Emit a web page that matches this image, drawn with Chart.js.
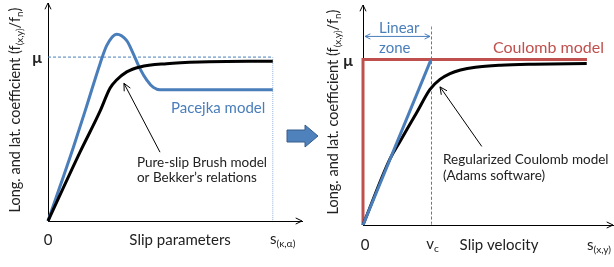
<!DOCTYPE html>
<html>
<head>
<meta charset="utf-8">
<script src="https://cdn.jsdelivr.net/npm/chart.js@4.4.1/dist/chart.umd.min.js"></script>
<style>
  body { margin: 0; background: #fff; }
  #wrap { position: relative; width: 614px; height: 267px; overflow: hidden; }
  #left { position: absolute; left: 0; top: 0; }
  #right { position: absolute; left: 318px; top: 0; }
</style>
</head>
<body>
<div id="wrap">
  <canvas id="left" width="320" height="267" style="width:320px;height:267px"></canvas>
  <canvas id="right" width="296" height="267" style="width:296px;height:267px"></canvas>
</div>
<script>
// ---- left panel: slip models (x = slip, y = friction coefficient, mu = 1)
const pacejkaX = [0, 0.47, 1.0, 1.52, 2.05, 2.31, 2.70, 3.10, 3.36, 3.62, 3.89, 4.15, 4.41, 4.93, 8.85];
const pacejkaY = [0, 0.21, 0.45, 0.70, 0.96, 1.07, 1.14, 1.10, 1.02, 0.93, 0.86, 0.815, 0.80, 0.80, 0.80];
const brushX = [0, 1.26, 2.05, 2.44, 2.70, 3.10, 3.62, 4.67, 5.98, 8.85];
const brushY = [0, 0.42, 0.67, 0.81, 0.86, 0.91, 0.94, 0.96, 0.97, 0.975];
const slipEnd = 8.85;

// ---- right panel: slip velocity models
const vc = 2.74;
const coulombX = [0, 0, 8.96];
const coulombY = [0, 1, 1];
const linearX = [0, 2.72];
const linearY = [0, 1];
const adamsX = [0, 1.08, 1.48, 2.15, 2.68, 3.08, 3.48, 3.9, 4.5, 5.5, 6.81, 8.95];
const adamsY = [0, 0.40, 0.505, 0.68, 0.82, 0.88, 0.915, 0.937, 0.954, 0.966, 0.972, 0.976];

const FONT = 'Lato, "Open Sans", sans-serif';
const TXT = '#222';
const BLUE = '#4a7ebb';
const RED = '#c0504d';

function pts(xs, ys) {
    return xs.map((x, i) => ({x: x, y: ys[i]}));
}

function line(xs, ys, color, width, extra) {
    return Object.assign({
        data: pts(xs, ys),
        borderColor: color,
        borderWidth: width,
        pointRadius: 0,
        fill: false,
        clip: false,
        cubicInterpolationMode: 'monotone'
    }, extra || {});
}

function scaleOpts(max) {
    return {
        type: 'linear', min: 0, max: max,
        grid: { display: false, drawTicks: false },
        ticks: { display: false },
        border: { display: true, color: '#000', width: 1 }
    };
}

// text with subscripts: parts = [[text, isSub], ...]
function rich(ctx, parts, x, y, size, color, align) {
    ctx.save();
    ctx.fillStyle = color;
    ctx.textBaseline = 'middle';
    ctx.textAlign = 'left';
    let w = 0;
    parts.forEach(([t, sub]) => {
        ctx.font = (sub ? size * 0.68 : size) + 'px ' + FONT;
        w += ctx.measureText(t).width;
    });
    let cx = align === 'center' ? x - w / 2 : (align === 'right' ? x - w : x);
    parts.forEach(([t, sub]) => {
        const s = sub ? size * 0.68 : size;
        ctx.font = s + 'px ' + FONT;
        ctx.fillText(t, cx, sub ? y + size * 0.3 : y);
        cx += ctx.measureText(t).width;
    });
    ctx.restore();
}

function head(ctx, fx, fy, tx, ty, len) {
    const a = Math.atan2(ty - fy, tx - fx);
    ctx.beginPath();
    ctx.moveTo(tx - len * Math.cos(a - 0.45), ty - len * Math.sin(a - 0.45));
    ctx.lineTo(tx, ty);
    ctx.lineTo(tx - len * Math.cos(a + 0.45), ty - len * Math.sin(a + 0.45));
    ctx.stroke();
}

function arrow(ctx, fx, fy, tx, ty, color, len) {
    ctx.save();
    ctx.strokeStyle = color;
    ctx.lineWidth = 1;
    ctx.beginPath();
    ctx.moveTo(fx, fy);
    ctx.lineTo(tx, ty);
    ctx.stroke();
    head(ctx, fx, fy, tx, ty, len);
    ctx.restore();
}

function axisHeads(ctx, a) {
    ctx.save();
    ctx.strokeStyle = '#000';
    ctx.lineWidth = 1;
    head(ctx, a.left, a.bottom, a.left, a.top, 7);
    head(ctx, a.left, a.bottom, a.right, a.bottom, 7);
    ctx.restore();
}

const yLabel = [['Long. and lat. coefficient (f', false], ['(x,y)', true], ['/f', false], ['n', true], [')', false]];

function drawYLabel(ctx, px, py) {
    ctx.save();
    ctx.translate(px, py);
    ctx.rotate(-Math.PI / 2);
    rich(ctx, yLabel, 0, 0, 14.5, TXT, 'center');
    ctx.restore();
}

function drawMu(ctx, px, py) {
    ctx.save();
    ctx.fillStyle = TXT;
    ctx.font = 'bold 16px ' + FONT;
    ctx.textAlign = 'center';
    ctx.textBaseline = 'middle';
    ctx.fillText('\u03bc', px, py);
    ctx.restore();
}

const leftDecor = {
    id: 'leftDecor',
    afterDatasetsDraw(chart) {
        const {ctx, chartArea: a} = chart;
        const x = chart.scales.x, y = chart.scales.y;
        axisHeads(ctx, a);
        drawYLabel(ctx, 15, 110);
        drawMu(ctx, a.left - 11, y.getPixelForValue(1) + 1);
        rich(ctx, [['0', false]], x.getPixelForValue(0), a.bottom + 19, 15, TXT, 'center');
        rich(ctx, [['Slip parameters', false]], x.getPixelForValue(5.2), a.bottom + 19, 15, TXT, 'center');
        rich(ctx, [['s', false], ['(\u03ba,\u03b1)', true]], x.getPixelForValue(8.74), a.bottom + 18, 15, TXT, 'left');
        rich(ctx, [['Pacejka model', false]], x.getPixelForValue(4.84), y.getPixelForValue(0.69), 15, BLUE, 'left');
        rich(ctx, [['Pure-slip Brush model', false]], x.getPixelForValue(3.5), y.getPixelForValue(0.354), 13.5, TXT, 'left');
        rich(ctx, [['or Bekker\u2019s relations', false]], x.getPixelForValue(3.5), y.getPixelForValue(0.262), 13.5, TXT, 'left');
        arrow(ctx, x.getPixelForValue(4.41), y.getPixelForValue(0.42), x.getPixelForValue(2.99), y.getPixelForValue(0.84), '#000', 8);

        // block arrow pointing to the right panel
        const bx = a.right - 15, by = 136;
        ctx.save();
        ctx.fillStyle = '#4f81bd';
        ctx.strokeStyle = '#385d8a';
        ctx.lineWidth = 1;
        ctx.beginPath();
        ctx.moveTo(bx, by - 6);
        ctx.lineTo(bx + 18, by - 6);
        ctx.lineTo(bx + 18, by - 11);
        ctx.lineTo(bx + 31, by);
        ctx.lineTo(bx + 18, by + 11);
        ctx.lineTo(bx + 18, by + 6);
        ctx.lineTo(bx, by + 6);
        ctx.closePath();
        ctx.fill();
        ctx.stroke();
        ctx.restore();
    }
};

const rightDecor = {
    id: 'rightDecor',
    afterDatasetsDraw(chart) {
        const {ctx, chartArea: a} = chart;
        const x = chart.scales.x, y = chart.scales.y;
        axisHeads(ctx, a);
        drawYLabel(ctx, 15, 112);
        drawMu(ctx, a.left - 15, y.getPixelForValue(1) + 1);
        rich(ctx, [['0', false]], x.getPixelForValue(0.08), a.bottom + 20, 15, TXT, 'center');
        rich(ctx, [['v', false], ['c', true]], x.getPixelForValue(vc) + 1, a.bottom + 19, 15, TXT, 'center');
        rich(ctx, [['Slip velocity', false]], x.getPixelForValue(5.44), a.bottom + 20, 15, TXT, 'center');
        rich(ctx, [['s', false], ['(x,y)', true]], x.getPixelForValue(8.96), a.bottom + 20, 15, TXT, 'left');
        rich(ctx, [['Coulomb model', false]], x.getPixelForValue(5.2), y.getPixelForValue(1.07), 16, RED, 'left');
        rich(ctx, [['Linear', false]], x.getPixelForValue(0.64), y.getPixelForValue(1.19), 15, BLUE, 'left');
        rich(ctx, [['zone', false]], x.getPixelForValue(0.64), y.getPixelForValue(1.07), 15, BLUE, 'left');
        const zy = y.getPixelForValue(1.14);
        arrow(ctx, x.getPixelForValue(1.4), zy, x.getPixelForValue(0.08), zy, BLUE, 6);
        arrow(ctx, x.getPixelForValue(1.4), zy, x.getPixelForValue(2.68), zy, BLUE, 6);
        rich(ctx, [['Regularized Coulomb model', false]], x.getPixelForValue(3.2), y.getPixelForValue(0.394), 13.5, TXT, 'left');
        rich(ctx, [['(Adams software)', false]], x.getPixelForValue(3.2), y.getPixelForValue(0.297), 13.5, TXT, 'left');
        arrow(ctx, x.getPixelForValue(4.75), y.getPixelForValue(0.475), x.getPixelForValue(3.08), y.getPixelForValue(0.835), '#000', 8);
    }
};

function baseOptions(padding) {
    return {
        responsive: false,
        animation: false,
        events: [],
        layout: { padding: padding, autoPadding: false },
        plugins: { legend: { display: false }, tooltip: { enabled: false } },
        scales: { x: scaleOpts(10), y: scaleOpts(1.33) }
    };
}

new Chart(document.getElementById('left'), {
    type: 'line',
    data: {
        datasets: [
            line(brushX, brushY, '#000', 3),
            line(pacejkaX, pacejkaY, BLUE, 3),
            line([0, slipEnd], [1, 1], BLUE, 1, { borderDash: [3, 2] }),
            line([slipEnd, slipEnd], [1, 0], '#95b3d7', 1, { borderDash: [1, 1] })
        ]
    },
    options: baseOptions({ left: 48, right: 18, top: 3, bottom: 46 }),
    plugins: [leftDecor]
});

new Chart(document.getElementById('right'), {
    type: 'line',
    data: {
        datasets: [
            line(linearX, linearY, BLUE, 3),
            line(adamsX, adamsY, '#000', 3),
            line(coulombX, coulombY, RED, 3, { tension: 0, cubicInterpolationMode: 'default' }),
            line([vc, vc], [1.2, 0], BLUE, 1, { borderDash: [3, 2] })
        ]
    },
    options: baseOptions({ left: 45, right: 1, top: 5, bottom: 42 }),
    plugins: [rightDecor]
});
</script>
</body>
</html>
